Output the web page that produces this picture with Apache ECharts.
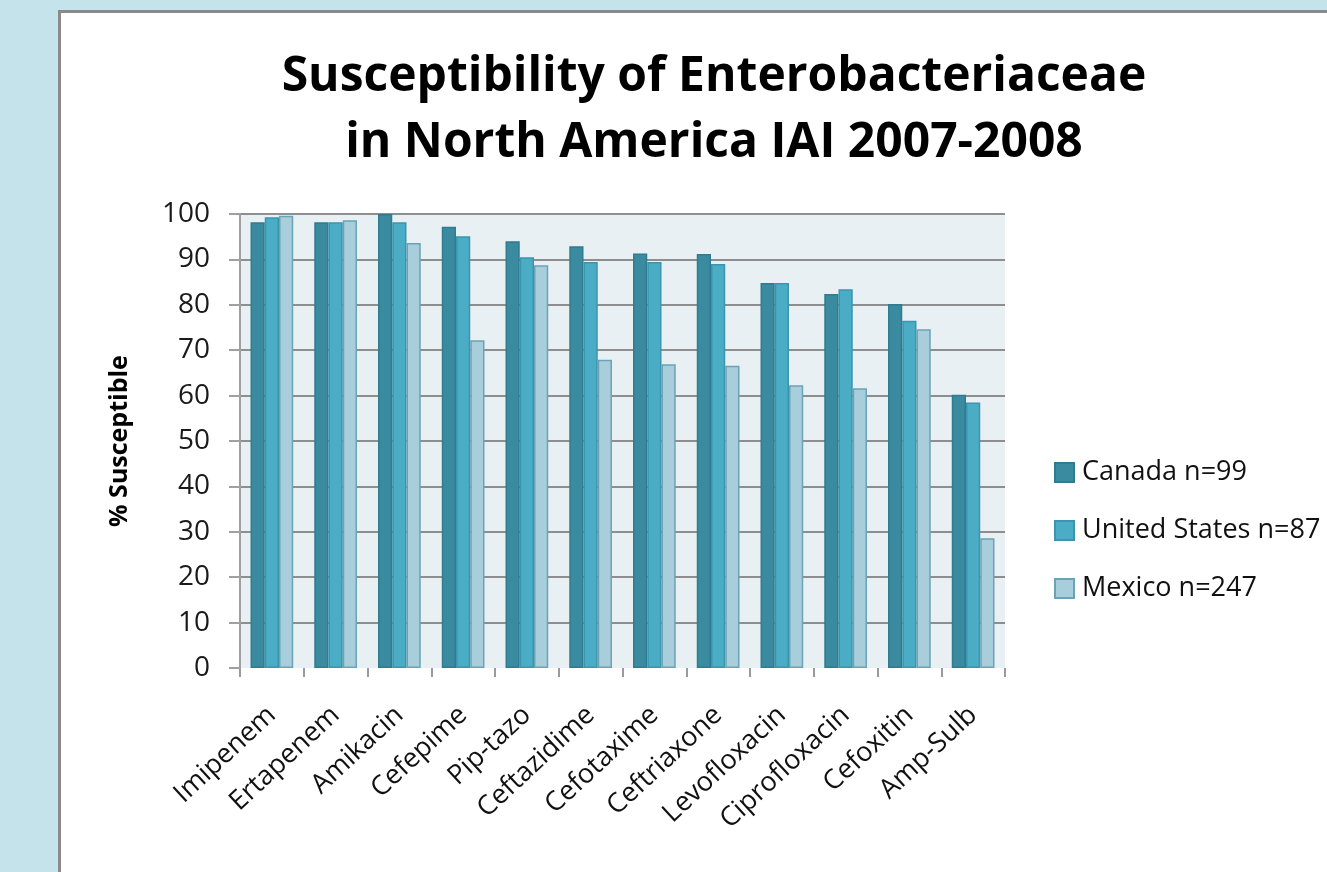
<!DOCTYPE html>
<html>
<head>
<meta charset="utf-8">
<script src="https://cdn.jsdelivr.net/npm/echarts@6/dist/echarts.min.js"></script>
<style>
  html, body { margin: 0; padding: 0; width: 1327px; height: 872px; overflow: hidden; background: #c5e3eb; }
  #card { position: absolute; left: 58px; top: 10px; width: 1400px; height: 900px; background: #ffffff;
          border-left: 3px solid #8a8a8a; border-top: 3px solid #8a8a8a; box-sizing: border-box; }
  #chart { position: absolute; left: 0; top: 0; width: 1327px; height: 872px; }
</style>
</head>
<body>
<div id="card"></div>
<div id="chart"></div>
<script>
// Antibiotics tested, in plotted order
const drugs = ['Imipenem', 'Ertapenem', 'Amikacin', 'Cefepime', 'Pip-tazo', 'Ceftazidime',
               'Cefotaxime', 'Ceftriaxone', 'Levofloxacin', 'Ciprofloxacin', 'Cefoxitin', 'Amp-Sulb'];

// Percent susceptible by region
const canada       = [98.2, 98.2, 100, 97.2, 94.0, 92.9, 91.3, 91.2, 84.8, 82.4, 80.2, 60.2];
const unitedStates = [99.3, 98.2, 98.2, 95.1, 90.5, 89.4, 89.4, 89.0, 84.8, 83.4, 76.5, 58.5];
const mexico       = [99.6, 98.6, 93.6, 72.2, 88.7, 67.9, 66.9, 66.6, 62.3, 61.6, 74.6, 28.6];

const seriesNames = ['Canada n=99', 'United States n=87', 'Mexico n=247'];
const yTicks = [0, 10, 20, 30, 40, 50, 60, 70, 80, 90, 100];

const FONT = '"Open Sans", Lato, sans-serif';

const fills   = ['#3b8ba0', '#4bacc6', '#a9cedb'];
const borders = ['#2f7b90', '#3a95ad', '#6aa3b6'];
const values  = [canada, unitedStates, mexico];

const chart = echarts.init(document.getElementById('chart'), null, { renderer: 'canvas' });

chart.setOption({
  backgroundColor: 'transparent',
  animation: false,
  title: {
    text: 'Susceptibility of Enterobacteriaceae\nin North America IAI 2007-2008',
    left: 714,
    top: 44,
    padding: 0,
    textAlign: 'center',
    textStyle: { fontFamily: FONT, fontWeight: 'bold', fontSize: 48, lineHeight: 66, color: '#000' }
  },
  legend: {
    orient: 'vertical',
    left: 1054,
    top: 459,
    padding: 0,
    itemWidth: 19,
    itemHeight: 19,
    itemGap: 31,
    icon: 'rect',
    data: seriesNames,
    textStyle: { fontFamily: FONT, fontSize: 27, color: '#111', padding: [0, 0, 0, 3] }
  },
  grid: {
    left: 240, right: 322, top: 214, bottom: 204,
    show: true, backgroundColor: '#e8f0f4', borderWidth: 0
  },
  xAxis: {
    type: 'category',
    data: drugs,
    axisLine: { show: false },
    axisTick: { show: true, length: 9, interval: 0, lineStyle: { color: '#9a9a9a', width: 2 } },
    axisLabel: {
      interval: 0, rotate: 43, margin: 43,
      fontFamily: FONT, fontSize: 27, color: '#111'
    },
    splitLine: { show: false }
  },
  yAxis: {
    type: 'value',
    min: yTicks[0], max: yTicks[yTicks.length - 1], interval: 10,
    name: '% Susceptible',
    nameLocation: 'middle',
    nameRotate: 90,
    nameGap: 108,
    nameTextStyle: { fontFamily: FONT, fontWeight: 'bold', fontSize: 25, color: '#000' },
    axisLine: { show: true, lineStyle: { color: '#a0a0a0', width: 2 } },
    axisTick: { show: true, length: 11, lineStyle: { color: '#a0a0a0', width: 2 } },
    axisLabel: { margin: 30, fontFamily: FONT, fontSize: 28, color: '#1a1a1a' },
    splitLine: {
      show: true,
      lineStyle: {
        width: 2,
        color: ['rgba(0,0,0,0)', '#8e8e8e', '#8e8e8e', '#8e8e8e', '#8e8e8e', '#8e8e8e',
                '#8e8e8e', '#8e8e8e', '#8e8e8e', '#8e8e8e', '#8e8e8e']
      }
    }
  },
  series: seriesNames.map((name, i) => ({
    name,
    type: 'bar',
    data: values[i],
    barGap: '0%',
    barCategoryGap: '33%',
    itemStyle: { color: fills[i], borderColor: borders[i], borderWidth: 1.5 }
  }))
});
</script>
</body>
</html>
